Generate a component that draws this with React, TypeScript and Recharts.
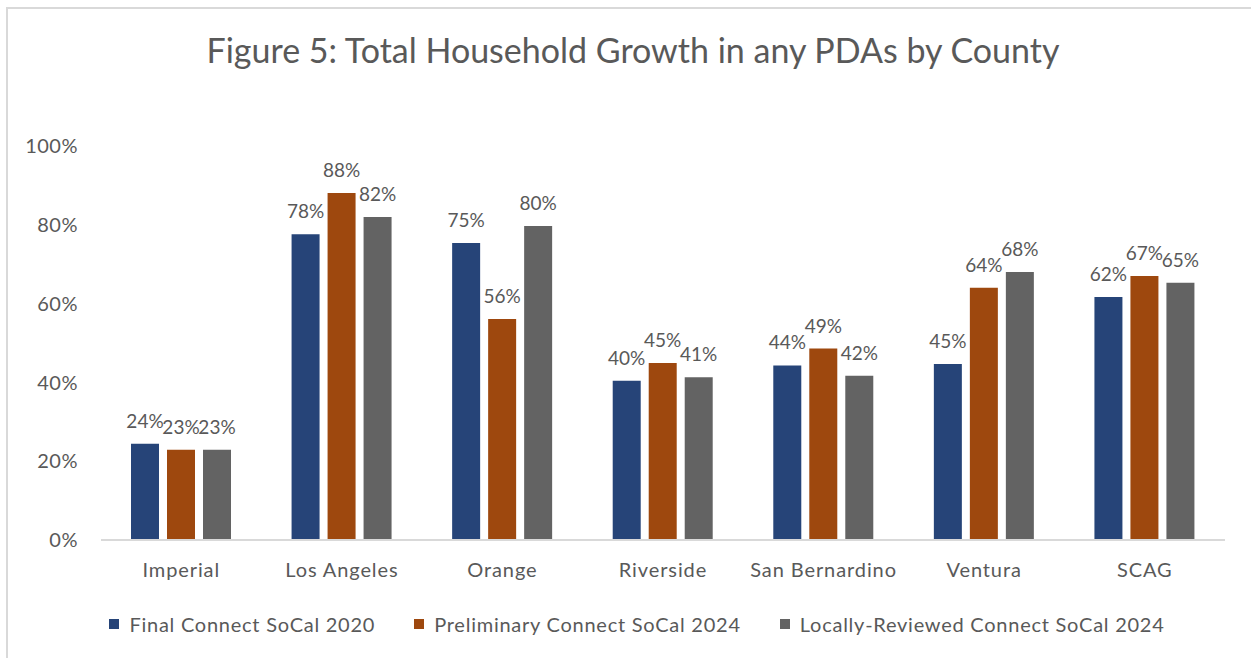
import { BarChart, Bar, XAxis, YAxis, LabelList } from "recharts"

// Counties along the x axis
const counties = ["Imperial", "Los Angeles", "Orange", "Riverside", "San Bernardino", "Ventura", "SCAG"]

// Share of household growth in PDAs (%)
const final2020 = [24.4, 77.6, 75.4, 40.4, 44.3, 44.7, 61.7]
const prelim2024 = [22.9, 88.1, 56.1, 44.9, 48.6, 64.0, 67.0]
const reviewed2024 = [22.9, 82.0, 79.7, 41.3, 41.7, 68.0, 65.3]

const yTicks = [0, 20, 40, 60, 80, 100]

const series = [
  { key: "final2020", name: "Final Connect SoCal 2020", color: "#264478" },
  { key: "prelim2024", name: "Preliminary Connect SoCal 2024", color: "#9E480E" },
  { key: "reviewed2024", name: "Locally-Reviewed Connect SoCal 2024", color: "#636363" },
]

const data = counties.map((county, i) => ({
  county,
  final2020: final2020[i],
  prelim2024: prelim2024[i],
  reviewed2024: reviewed2024[i],
}))

const FONT = "Lato, 'Open Sans', sans-serif"
const TEXT = "#595959"

export default function App() {
  return (
    <div
      style={{
        position: "absolute",
        left: 0,
        top: 0,
        width: 1251,
        height: 658,
        background: "#fff",
        fontFamily: FONT,
        overflow: "hidden",
      }}
    >
      {/* chart frame, only top and left edges show */}
      <div
        style={{
          position: "absolute",
          left: 6,
          top: 7,
          right: -10,
          bottom: -10,
          borderTop: "2px solid #d9d9d9",
          borderLeft: "2px solid #d9d9d9",
        }}
      />

      <div
        style={{
          position: "absolute",
          top: 30,
          left: 0,
          width: 1266,
          textAlign: "center",
          fontSize: 34,
          color: TEXT,
          lineHeight: "40px",
        }}
      >
        Figure 5: Total Household Growth in any PDAs by County
      </div>

      <div style={{ position: "absolute", left: 0, top: 0 }}>
        <BarChart
          width={1251}
          height={658}
          data={data}
          margin={{ top: 146, right: 26, left: 0, bottom: 78 }}
          barSize={28}
          barGap={8}
        >
          <XAxis
            dataKey="county"
            height={40}
            tickLine={false}
            axisLine={{ stroke: "#d9d9d9", strokeWidth: 2 }}
            tickMargin={17}
            tick={{ fontSize: 20, fill: TEXT, fontFamily: FONT, letterSpacing: 0.9 }}
            interval={0}
          />
          <YAxis
            width={101}
            domain={[0, 100]}
            ticks={yTicks}
            axisLine={false}
            tickLine={false}
            tickMargin={17}
            tickFormatter={(v) => `${v}%`}
            tick={{ fontSize: 20, fill: TEXT, fontFamily: FONT, letterSpacing: 0.5 }}
          />
          {series.map((s) => (
            <Bar key={s.key} dataKey={s.key} name={s.name} fill={s.color} isAnimationActive={false}>
              <LabelList
                dataKey={s.key}
                position="top"
                offset={16}
                formatter={(v: number) => `${Math.round(v)}%`}
                style={{ fontSize: 19, fill: TEXT, fontFamily: FONT }}
              />
            </Bar>
          ))}
        </BarChart>
      </div>

      {/* legend */}
      <div
        style={{
          position: "absolute",
          top: 612,
          left: 0,
          width: 1274,
          display: "flex",
          justifyContent: "center",
          gap: 39,
          fontSize: 20,
          letterSpacing: 0.75,
          color: TEXT,
          lineHeight: "24px",
        }}
      >
        {series.map((s) => (
          <div key={s.key} style={{ display: "flex", alignItems: "center" }}>
            <span style={{ width: 10, height: 10, background: s.color, marginRight: 10, display: "inline-block" }} />
            <span>{s.name}</span>
          </div>
        ))}
      </div>
    </div>
  )
}
